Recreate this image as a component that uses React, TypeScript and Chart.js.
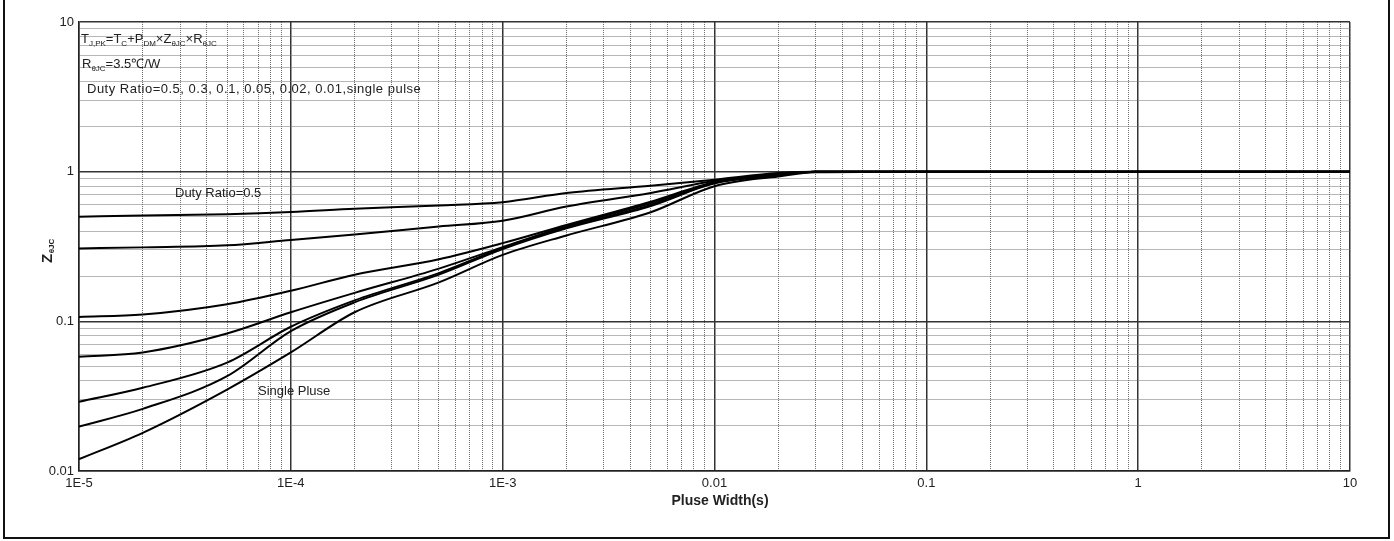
import React, { useEffect, useRef } from 'react';
import { Chart, registerables } from 'chart.js';

Chart.register(...registerables);

// ---- data ----
const pulseWidths = [1e-5, 2e-5, 5e-5, 1e-4, 2e-4, 5e-4, 1e-3, 2e-3, 5e-3, 1e-2, 2e-2, 3e-2, 1e-1, 1, 10];
const duty05 = [0.5, 0.51, 0.52, 0.537, 0.565, 0.595, 0.625, 0.72, 0.806, 0.884, 0.98, 1.0, 1.0, 1.0, 1.0];
const duty03 = [0.307, 0.312, 0.322, 0.35, 0.38, 0.43, 0.47, 0.585, 0.72, 0.865, 0.97, 1.0, 1.0, 1.0, 1.0];
const duty01 = [0.107, 0.111, 0.13, 0.16, 0.205, 0.26, 0.333, 0.44, 0.63, 0.85, 0.96, 1.0, 1.0, 1.0, 1.0];
const duty005 = [0.058, 0.062, 0.083, 0.115, 0.155, 0.225, 0.313, 0.432, 0.615, 0.845, 0.955, 1.0, 1.0, 1.0, 1.0];
const duty002 = [0.029, 0.036, 0.053, 0.092, 0.138, 0.21, 0.309, 0.425, 0.6, 0.84, 0.95, 1.0, 1.0, 1.0, 1.0];
const duty001 = [0.0198, 0.026, 0.043, 0.086, 0.134, 0.205, 0.304, 0.418, 0.59, 0.835, 0.945, 1.0, 1.0, 1.0, 1.0];
const singlePulse = [0.012, 0.018, 0.035, 0.062, 0.115, 0.182, 0.278, 0.375, 0.536, 0.8, 0.93, 0.99, 1.0, 1.0, 1.0];

const seriesNames = ['Duty 0.5', 'Duty 0.3', 'Duty 0.1', 'Duty 0.05', 'Duty 0.02', 'Duty 0.01', 'Single Pulse'];
const seriesValues = [duty05, duty03, duty01, duty005, duty002, duty001, singlePulse];

const xTickValues = [1e-5, 1e-4, 1e-3, 1e-2, 1e-1, 1, 10];
const xTickLabels = ['1E-5', '1E-4', '1E-3', '0.01', '0.1', '1', '10'];
const yTickValues = [0.01, 0.1, 1, 10];
const yTickLabels = ['0.01', '0.1', '1', '10'];

const FONT = '"Liberation Sans", Arial, Helvetica, sans-serif';

function isDecade(v: number) {
  const l = Math.log10(v);
  return Math.abs(l - Math.round(l)) < 1e-6;
}

function gridValues(min: number, max: number) {
  const out: number[] = [];
  const e0 = Math.round(Math.log10(min));
  const e1 = Math.round(Math.log10(max));
  for (let e = e0; e < e1; e++) {
    for (let m = 1; m < 10; m++) out.push(m * Math.pow(10, e));
  }
  out.push(max);
  return out;
}

function labelFor(v: number, values: number[], labels: string[]) {
  for (let i = 0; i < values.length; i++) {
    if (Math.abs(v - values[i]) / values[i] < 1e-6) return labels[i];
  }
  return '';
}

type Part = { t: string; sub?: boolean };

function drawRich(ctx: CanvasRenderingContext2D, x: number, y: number, parts: Part[], size: number, subSize: number) {
  let cx = x;
  for (const p of parts) {
    ctx.font = `${p.sub ? subSize : size}px ${FONT}`;
    ctx.fillText(p.t, cx, p.sub ? y + 3 : y);
    cx += ctx.measureText(p.t).width;
  }
}

const decorPlugin = {
  id: 'decor',
  afterDraw(chart: any) {
    const ctx: any = chart.ctx;
    ctx.save();
    ctx.fillStyle = '#222';
    ctx.textBaseline = 'alphabetic';
    ctx.textAlign = 'left';

    drawRich(ctx, 81, 43, [
      { t: 'T' }, { t: 'J,PK', sub: true }, { t: '=T' }, { t: 'C', sub: true },
      { t: '+P' }, { t: 'DM', sub: true }, { t: '×Z' }, { t: 'θJC', sub: true },
      { t: '×R' }, { t: 'θJC', sub: true },
    ], 13, 8);
    drawRich(ctx, 82, 68, [{ t: 'R' }, { t: 'θJC', sub: true }, { t: '=3.5℃/W' }], 13, 8);
    ctx.font = `13px ${FONT}`;
    ctx.letterSpacing = '0.5px';
    ctx.fillText('Duty Ratio=0.5, 0.3, 0.1, 0.05, 0.02, 0.01,single pulse', 87, 93);
    ctx.letterSpacing = '0px';
    ctx.fillText('Duty Ratio=0.5', 175, 197);
    ctx.fillText('Single Pluse', 258, 395);

    // x title
    ctx.font = `bold 14px ${FONT}`;
    ctx.textAlign = 'center';
    ctx.fillText('Pluse Width(s)', 720, 505);

    // y title (rotated)
    ctx.save();
    ctx.translate(52, 263);
    ctx.rotate(-Math.PI / 2);
    ctx.textAlign = 'left';
    ctx.font = `bold 15px ${FONT}`;
    ctx.fillText('Z', 0, 0);
    const zw = ctx.measureText('Z').width;
    ctx.font = `bold 8px ${FONT}`;
    ctx.fillText('θJC', zw + 0.5, 2);
    ctx.restore();

    // outer frame
    ctx.strokeStyle = '#111';
    ctx.lineWidth = 2;
    ctx.strokeRect(4, -4, 1385, 542);
    ctx.restore();
  },
};

export default function App() {
  const canvasRef = useRef<HTMLCanvasElement | null>(null);

  useEffect(() => {
    if (!canvasRef.current) return;
    const xGrid = gridValues(1e-5, 10);
    const yGrid = gridValues(0.01, 10);

    const gridColor = (ctx: any) => (ctx.tick && isDecade(ctx.tick.value) ? '#333' : '#6e6e6e');
    const gridWidth = (ctx: any) => (ctx.tick && isDecade(ctx.tick.value) ? 1.5 : 1);
    const gridDash = (ctx: any) => (ctx.tick && !isDecade(ctx.tick.value) ? [1, 1] : []);

    const chart = new Chart(canvasRef.current, {
      type: 'line',
      data: {
        datasets: seriesValues.map((vals, i) => ({
          label: seriesNames[i],
          data: pulseWidths.map((x, j) => ({ x, y: vals[j] })),
          borderColor: '#000',
          backgroundColor: '#000',
          borderWidth: 2,
          pointRadius: 0,
          cubicInterpolationMode: 'monotone' as const,
          fill: false,
        })),
      },
      options: {
        animation: false,
        responsive: true,
        maintainAspectRatio: false,
        layout: { padding: { top: 22, right: 44, left: 0, bottom: 0 } },
        plugins: { legend: { display: false }, tooltip: { enabled: false } },
        events: [],
        scales: {
          x: {
            type: 'logarithmic',
            min: 1e-5,
            max: 10,
            afterBuildTicks: (s: any) => {
              s.ticks = xGrid.map((v) => ({ value: v }));
            },
            afterFit: (s: any) => {
              s.height = 70;
            },
            ticks: {
              autoSkip: false,
              maxRotation: 0,
              minRotation: 0,
              padding: 5,
              color: '#222',
              font: { size: 13, family: FONT },
              callback: (v: any) => labelFor(Number(v), xTickValues, xTickLabels),
            },
            grid: { drawTicks: false, color: gridColor, lineWidth: gridWidth },
            border: { display: true, color: '#222', width: 1.5, dash: gridDash },
          },
          y: {
            type: 'logarithmic',
            min: 0.01,
            max: 10,
            afterBuildTicks: (s: any) => {
              s.ticks = yGrid.map((v) => ({ value: v }));
            },
            afterFit: (s: any) => {
              s.width = 79;
            },
            ticks: {
              autoSkip: false,
              padding: 5,
              color: '#222',
              font: { size: 13, family: FONT },
              callback: (v: any) => labelFor(Number(v), yTickValues, yTickLabels),
            },
            grid: { drawTicks: false, color: gridColor, lineWidth: gridWidth },
            border: { display: true, color: '#222', width: 1.5, dash: gridDash },
          },
        },
      },
      plugins: [decorPlugin],
    } as any);

    return () => chart.destroy();
  }, []);

  return (
    <div style={{ position: 'absolute', left: 0, top: 0, width: 1394, height: 541, background: '#fff' }}>
      <canvas ref={canvasRef} />
    </div>
  );
}
